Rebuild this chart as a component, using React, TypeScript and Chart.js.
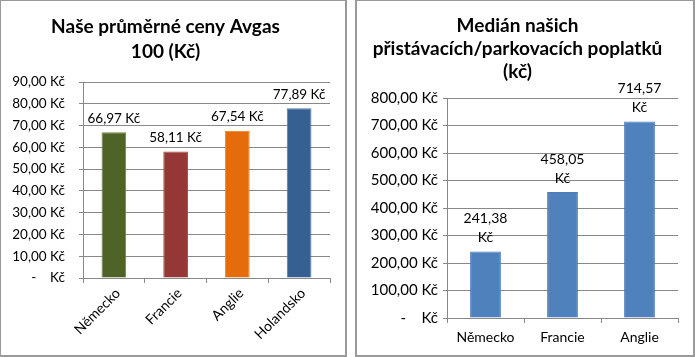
import React, { useEffect, useRef } from "react";
import { Chart, registerables } from "chart.js";

Chart.register(...registerables);

// ---- data ----
const avgasTitle = ["Naše průměrné ceny Avgas", "100 (Kč)"];
const avgasCountries = ["Německo", "Francie", "Anglie", "Holandsko"];
const avgasPrices = [66.97, 58.11, 67.54, 77.89];
const avgasFill = ["#4F6228", "#953735", "#E46C0A", "#376092"];
const avgasEdge = ["#6B8739", "#B24745", "#F58A34", "#4C7AB0"];
const avgasAxisMax = 90;
const avgasAxisStep = 10;

const feeTitle = ["Medián našich", "přistávacích/parkovacích poplatků", "(kč)"];
const feeCountries = ["Německo", "Francie", "Anglie"];
const feeMedians = [241.38, 458.05, 714.57];
const feeFill = "#4F81BD";
const feeEdge = "#4A7DBA";
const feeAxisMax = 800;
const feeAxisStep = 100;

const FONT = "Lato, 'Open Sans', sans-serif";
const GRID = "#888888";

const num = (v: number) => v.toFixed(2).replace(".", ",");
const tickText = (v: number) => (v === 0 ? "-\u00a0\u00a0\u00a0\u00a0Kč" : num(v) + " Kč");

function barLabels(lines: (v: number) => string[], offset: number, gap: number, size: number) {
  return {
    id: "barLabels",
    afterDatasetsDraw(chart: any) {
      const ctx = chart.ctx;
      const meta = chart.getDatasetMeta(0);
      const data = chart.data.datasets[0].data as number[];
      ctx.save();
      ctx.font = `${size}px ${FONT}`;
      ctx.fillStyle = "#000";
      ctx.textAlign = "center";
      ctx.textBaseline = "middle";
      meta.data.forEach((bar: any, i: number) => {
        const ls = lines(data[i]);
        ls.forEach((t, j) => {
          ctx.fillText(t, bar.x, bar.y - offset - (ls.length - 1 - j) * gap);
        });
      });
      ctx.restore();
    },
  };
}

function AvgasChart() {
  const ref = useRef<HTMLCanvasElement>(null);
  useEffect(() => {
    const chart = new Chart(ref.current!, {
      type: "bar",
      data: {
        labels: avgasCountries,
        datasets: [
          {
            data: avgasPrices,
            backgroundColor: avgasFill,
            borderColor: avgasEdge,
            borderWidth: 1,
            categoryPercentage: 1,
            barPercentage: 0.4,
          },
        ],
      },
      options: {
        responsive: false,
        animation: false,
        layout: { padding: { left: 0, right: 15, top: 0, bottom: 0 } },
        plugins: {
          legend: { display: false },
          tooltip: { enabled: false },
          title: {
            display: true,
            text: avgasTitle,
            color: "#000",
            font: { family: FONT, size: 19, weight: "bold", lineHeight: 25 / 19 },
            padding: { top: 13.5, bottom: 17.5 },
          },
        },
        scales: {
          x: {
            afterFit: (s: any) => {
              s.height = 77;
            },
            grid: { drawOnChartArea: false, drawTicks: true, tickLength: 5, color: GRID, offset: true },
            border: { display: true, color: GRID },
            ticks: {
              color: "#000",
              font: { family: FONT, size: 14 },
              minRotation: 45,
              maxRotation: 45,
              labelOffset: 4,
              padding: 2,
            },
          },
          y: {
            min: 0,
            max: avgasAxisMax,
            afterFit: (s: any) => {
              s.width = 82;
            },
            grid: { color: GRID, tickLength: 4, drawTicks: true },
            border: { display: true, color: GRID },
            ticks: {
              stepSize: avgasAxisStep,
              color: "#000",
              font: { family: FONT, size: 13.5 },
              padding: 14,
              callback: (v: any) => tickText(Number(v)),
            },
          },
        },
      },
      plugins: [barLabels((v) => [num(v) + " Kč"], 14, 0, 13.5)],
    } as any);
    return () => chart.destroy();
  }, []);
  return <canvas ref={ref} width={344} height={354} style={{ display: "block", width: 344, height: 354 }} />;
}

function FeeChart() {
  const ref = useRef<HTMLCanvasElement>(null);
  useEffect(() => {
    const chart = new Chart(ref.current!, {
      type: "bar",
      data: {
        labels: feeCountries,
        datasets: [
          {
            data: feeMedians,
            backgroundColor: feeFill,
            borderColor: feeEdge,
            borderWidth: 1,
            categoryPercentage: 1,
            barPercentage: 0.4,
          },
        ],
      },
      options: {
        responsive: false,
        animation: false,
        layout: { padding: { left: 0, right: 15, top: 0, bottom: 0 } },
        plugins: {
          legend: { display: false },
          tooltip: { enabled: false },
          title: {
            display: true,
            text: feeTitle,
            color: "#000",
            font: { family: FONT, size: 19, weight: "bold", lineHeight: 23 / 19 },
            padding: { top: 13.5, bottom: 14.5 },
          },
        },
        scales: {
          x: {
            afterFit: (s: any) => {
              s.height = 37;
            },
            grid: { drawOnChartArea: false, drawTicks: true, tickLength: 5, color: GRID, offset: true },
            border: { display: true, color: GRID },
            ticks: {
              color: "#000",
              font: { family: FONT, size: 14 },
              maxRotation: 0,
              padding: 6,
            },
          },
          y: {
            min: 0,
            max: feeAxisMax,
            afterFit: (s: any) => {
              s.width = 90;
            },
            grid: { color: GRID, tickLength: 4, drawTicks: true },
            border: { display: true, color: GRID },
            ticks: {
              stepSize: feeAxisStep,
              color: "#000",
              font: { family: FONT, size: 15 },
              padding: 5,
              callback: (v: any) => tickText(Number(v)),
            },
          },
        },
      },
      plugins: [barLabels((v) => [num(v), "Kč"], 14, 19, 14)],
    } as any);
    return () => chart.destroy();
  }, []);
  return <canvas ref={ref} width={336} height={354} style={{ display: "block", width: 336, height: 354 }} />;
}

export default function App() {
  const border = "#9A9A9A";
  return (
    <div style={{ position: "absolute", left: 0, top: 0, width: 695, height: 357, background: "#fff" }}>
      <div
        style={{
          position: "absolute",
          left: 0,
          top: 0,
          width: 344,
          height: 354,
          borderLeft: `1px solid ${border}`,
          borderTop: `1px solid ${border}`,
          borderRight: `2px solid ${border}`,
          borderBottom: `2px solid ${border}`,
        }}
      >
        <AvgasChart />
      </div>
      <div
        style={{
          position: "absolute",
          left: 355,
          top: 0,
          width: 336,
          height: 354,
          borderLeft: `2px solid ${border}`,
          borderTop: `1px solid ${border}`,
          borderRight: `2px solid ${border}`,
          borderBottom: `2px solid ${border}`,
        }}
      >
        <FeeChart />
      </div>
    </div>
  );
}
